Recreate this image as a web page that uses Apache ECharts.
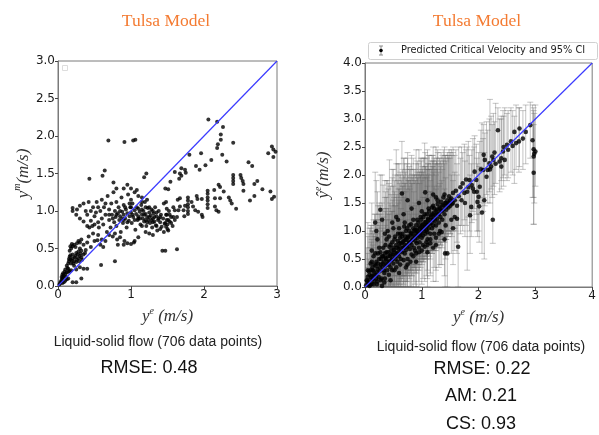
<!DOCTYPE html>
<html><head><meta charset="utf-8">
<script src="https://cdn.jsdelivr.net/npm/echarts@6/dist/echarts.min.js"></script>
<style>html,body{margin:0;padding:0;background:#fff}#c{width:599px;height:435px}</style>
</head><body><div id="c"></div>
<script>
// ---------- DATA ----------
const leftTicks = [0, 1, 2, 3];
const rightTicks = [0, 1, 2, 3, 4];
const titleText = "Tulsa Model";
const subText = "Liquid-solid flow (706 data points)";
const leftStats = ["RMSE: 0.48"];
const rightStats = ["RMSE: 0.22", "AM: 0.21", "CS: 0.93"];
const legendText = "Predicted Critical Velocity and 95% CI";
const diagLeft = [[0, 0], [3, 3]];
const diagRight = [[0, 0], [4, 4]];

// Left: measured (x) vs Tulsa model (y)
const leftOrigin = [[0.02,0.02],[0.03,0.04],[0.04,0.06],[0.05,0.08],[0.06,0.1],[0.07,0.12],[0.08,0.14],[0.1,0.16],[0.12,0.18],[0.14,0.19],[0.16,0.2],[0.18,0.21],[0.05,0.12],[0.06,0.15],[0.07,0.17],[0.09,0.19],[0.08,0.05],[0.1,0.07],[0.12,0.09],[0.14,0.1],[0.06,0.04],[0.11,0.12],[0.2,0.05],[0.25,0.05],[0.1,0.22],[0.13,0.24]];
const leftLow = [[0.14,0.3],[0.15,0.33],[0.15,0.36],[0.16,0.39],[0.17,0.41],[0.18,0.3],[0.19,0.34],[0.2,0.37],[0.2,0.42],[0.21,0.3],[0.22,0.33],[0.23,0.38],[0.24,0.4],[0.25,0.32],[0.26,0.35],[0.27,0.42],[0.28,0.37],[0.29,0.33],[0.3,0.4],[0.31,0.43],[0.32,0.38],[0.33,0.35],[0.35,0.42],[0.37,0.44],[0.17,0.35],[0.25,0.44],[0.16,0.47],[0.18,0.5],[0.2,0.53],[0.22,0.55],[0.24,0.52],[0.26,0.57],[0.28,0.6],[0.17,0.53],[0.19,0.56],[0.3,0.5],[0.32,0.62],[0.22,0.27],[0.3,0.25],[0.35,0.23],[0.4,0.23],[0.32,0.1],[0.25,0.22],[0.12,0.27],[0.14,0.23],[0.35,0.55],[0.4,0.58],[0.45,0.52],[0.42,0.66],[0.5,0.6],[0.54,0.61],[0.38,0.48],[0.48,0.7],[0.55,0.68],[0.58,0.55],[0.6,0.62],[0.65,0.6],[0.62,0.52],[0.3,0.58],[0.28,0.46],[0.32,0.47],[0.78,0.33],[0.59,0.28]];
const leftMain = [[0.2,1.0],[0.2,1.04],[0.26,1.02],[0.3,1.07],[0.35,1.1],[0.38,1.0],[0.4,0.95],[0.42,1.12],[0.43,0.78],[0.45,0.87],[0.47,0.8],[0.48,1.05],[0.5,0.93],[0.52,0.98],[0.53,1.12],[0.55,0.85],[0.56,0.78],[0.58,1.0],[0.6,0.9],[0.6,1.15],[0.62,0.82],[0.63,1.05],[0.65,0.95],[0.67,0.72],[0.68,1.2],[0.7,0.88],[0.7,1.02],[0.72,0.78],[0.73,1.1],[0.74,0.95],[0.75,0.66],[0.76,1.25],[0.77,0.85],[0.78,1.0],[0.79,0.92],[0.8,0.8],[0.8,1.12],[0.81,0.62],[0.82,0.97],[0.83,1.05],[0.84,0.88],[0.85,0.93],[0.86,0.72],[0.87,1.18],[0.88,0.99],[0.89,0.84],[0.9,0.95],[0.9,1.08],[0.91,0.6],[0.92,0.9],[0.93,1.02],[0.94,0.78],[0.95,0.97],[0.96,1.22],[0.97,0.87],[0.98,0.93],[0.99,1.05],[1.0,0.56],[1.0,0.98],[1.01,0.84],[1.02,1.1],[1.03,0.92],[1.04,0.58],[1.05,1.01],[1.06,0.75],[1.07,0.96],[1.08,1.28],[1.09,0.88],[1.1,1.03],[1.1,0.93],[1.12,0.99],[1.13,0.82],[1.14,1.08],[1.15,0.95],[1.16,0.9],[1.17,1.0],[1.18,0.86],[1.19,1.12],[1.2,0.96],[1.21,0.8],[1.22,0.92],[1.23,1.04],[1.24,0.88],[1.25,0.98],[1.26,0.84],[1.27,0.94],[1.28,1.02],[1.29,0.78],[1.3,0.9],[1.31,0.97],[1.32,0.86],[1.33,1.05],[1.34,0.81],[1.35,0.93],[1.36,0.74],[1.37,0.88],[1.38,1.0],[1.4,0.85],[1.41,0.95],[1.42,0.79],[1.44,0.9],[1.45,1.1],[1.46,0.83],[1.48,0.95],[1.5,0.76],[1.52,1.0],[1.53,0.86],[1.55,0.92],[1.57,0.8],[1.58,1.05],[1.6,0.88],[0.85,1.0],[0.88,0.9],[0.92,1.05],[0.95,0.85],[0.98,1.1],[1.02,0.95],[1.05,0.88],[1.08,1.05],[1.12,0.9],[1.15,1.02],[1.18,0.95],[1.2,1.05],[1.22,0.85],[1.25,0.92],[1.28,0.88],[1.3,1.0],[1.32,0.92],[1.35,0.98],[1.38,0.9],[1.4,0.92],[1.15,0.8],[1.2,0.88],[1.25,1.05],[1.3,0.85],[1.1,0.9],[1.0,1.05],[0.9,0.88],[0.8,0.95],[0.75,0.9],[0.7,0.95],[0.65,1.1],[0.55,1.05],[0.45,1.0],[0.5,0.82],[0.4,0.8],[0.35,0.86],[0.3,0.9],[0.25,0.95],[0.82,0.55],[0.9,0.55],[0.95,0.57],[0.85,0.65],[0.78,0.7],[0.7,0.68],[1.1,0.65],[1.05,0.6],[1.2,0.72],[1.25,0.7],[1.3,0.68],[1.35,0.8],[1.4,0.76],[1.45,0.72],[1.5,0.82],[1.55,0.84],[1.0,1.3],[0.95,1.35],[0.9,1.3],[1.05,1.25],[0.8,1.3],[1.1,1.2],[1.15,1.18],[1.22,1.15],[1.0,1.15],[1.15,1.12]];
const leftHigh = [[0.69,1.94],[0.91,1.92],[1.03,1.94],[1.06,1.95],[0.64,1.54],[0.61,1.47],[0.43,1.43],[0.76,1.38],[1.21,1.5],[1.18,1.45]];
const leftRight = [[2.06,2.22],[2.18,2.19],[2.26,2.12],[2.23,2.02],[2.23,1.95],[2.19,1.89],[2.18,1.84],[2.4,1.91],[2.25,1.75],[2.31,1.66],[1.96,1.77],[1.8,1.75],[1.89,1.6],[1.94,1.55],[2.02,1.61],[2.1,1.68],[2.61,1.65],[2.66,1.6],[2.88,1.77],[2.93,1.86],[2.95,1.82],[2.95,1.72],[2.98,1.79],[1.69,1.57],[1.74,1.55],[1.75,1.51],[1.67,1.5],[1.69,1.47],[1.66,1.43],[1.6,1.52],[1.54,1.39],[1.47,1.3],[1.51,1.29],[2.4,1.48],[2.4,1.44],[2.4,1.4],[2.4,1.36],[2.5,1.48],[2.51,1.44],[2.53,1.4],[2.54,1.36],[2.73,1.4],[2.69,1.36],[2.8,1.29],[2.54,1.27],[2.2,1.35],[2.22,1.32],[2.27,1.26],[2.22,1.17],[2.34,1.18],[2.36,1.14],[2.44,1.03],[2.38,1.1],[2.15,1.17],[2.15,1.06],[2.2,0.99],[2.63,1.14],[2.69,1.2],[2.93,1.16],[2.96,1.19],[2.91,1.26],[2.05,1.27],[2.05,1.23],[2.05,1.18],[2.05,1.14],[2.05,1.09],[2.05,1.04],[2.14,1.28],[2.17,1.01],[1.97,1.16],[1.9,1.2],[1.91,1.16],[1.88,1.01],[1.92,0.99],[1.97,0.95],[1.98,0.92],[1.83,1.12],[1.85,1.06],[1.78,1.18],[1.78,1.14],[1.78,1.09],[1.78,1.05],[1.78,1.0],[1.78,0.96],[1.74,1.07],[1.72,1.01],[1.73,0.93],[1.67,1.17],[1.64,1.15],[1.67,1.06],[1.65,1.01],[1.63,0.92],[1.6,1.01],[1.58,0.92],[1.53,0.95],[1.51,0.88],[1.48,1.12],[1.49,1.03],[1.49,0.95],[1.49,0.88],[1.47,0.84],[1.48,0.79],[1.51,0.74],[1.63,0.49],[1.43,0.47],[1.47,0.47]];

// Right: measured (x), predicted (y), 95% CI low, 95% CI high
const rightLow = [[0.02,0.03,0,0.35],[0.04,0.1,0,0.6],[0.05,0.18,0,1.15],[0.06,0.06,0,0.5],[0.08,0.22,0,1.05],[0.09,0.12,0,0.7],[0.1,0.3,0,1.1],[0.11,0.05,0,0.45],[0.12,0.2,0,0.85],[0.13,0.35,0,1.0],[0.14,0.15,0,0.75],[0.15,0.28,0,0.95],[0.16,0.1,0,0.6],[0.17,0.4,0,1.3],[0.18,1.15,0.2,2.05],[0.19,0.22,0,0.9],[0.2,0.45,0,1.2],[0.21,0.05,0,0.4],[0.22,0.32,0,1.05],[0.23,0.6,0,1.45],[0.24,0.18,0,0.8],[0.25,0.5,0,1.3],[0.26,0.28,0,1.0],[0.27,1.38,0.5,2.0],[0.28,0.4,0,1.15],[0.29,0.15,0,0.65],[0.3,0.55,0,1.5],[0.3,0.02,0,0.3],[0.31,0.35,0,1.05],[0.32,0.7,0,1.82],[0.33,0.45,0,1.25],[0.34,0.25,0,0.9],[0.35,0.6,0.1,1.6],[0.36,0.38,0,1.1],[0.37,0.5,0,1.4],[0.38,0.85,0.1,1.9],[0.39,0.3,0,1.0],[0.4,0.45,0,1.3],[0.41,0.62,0,1.75],[0.42,0.4,0,1.2],[0.43,0.72,0,2.27],[0.44,0.55,0,1.5],[0.45,0.35,0,1.05],[0.46,0.65,0.05,1.65],[0.47,0.48,0,1.35],[0.48,0.8,0.1,1.95],[0.49,0.58,0,1.55],[0.5,0.42,0,1.2],[0.5,0.7,0,1.8],[0.52,0.62,0,1.7],[0.53,0.9,0.2,2.0],[0.54,0.5,0,1.45],[0.55,0.75,0,2.45],[0.56,0.6,0,1.6],[0.57,0.45,0,1.3],[0.58,0.82,0.1,1.9],[0.59,0.68,0,1.75],[0.6,0.55,0,1.55],[0.6,1.05,0.3,2.2],[0.61,0.72,0.05,1.85],[0.62,0.88,0.15,2.05],[0.63,0.5,0,1.4],[0.64,0.78,0.1,1.9],[0.65,1.67,0.7,2.6],[0.65,0.62,0,1.7],[0.66,0.95,0.2,2.1],[0.67,0.7,0,1.8],[0.68,0.82,0.2,2.0],[0.69,1.08,0.4,2.3],[0.7,0.6,0,1.6],[0.7,0.75,0.1,1.85],[0.71,0.9,0.25,2.05],[0.72,0.66,0,1.7],[0.73,0.85,0.2,1.95],[0.74,1.05,0.4,2.2],[0.75,0.72,0.1,2.3],[0.76,0.88,0.3,2.0],[0.77,0.78,0.2,1.9],[0.78,1.0,0.4,2.1],[0.79,0.68,0,1.75],[0.8,0.92,0.3,2.1],[0.8,0.8,0.25,1.9],[0.81,1.12,0.5,2.2],[0.82,0.75,0.2,1.85],[0.83,0.95,0.35,2.0],[0.84,0.85,0.3,1.95],[0.85,1.2,0.5,2.3],[0.86,0.7,0.1,1.7],[0.87,0.9,0.35,2.0],[0.88,1.02,0.45,2.1],[0.89,0.82,0.3,1.9],[0.9,0.95,0.4,2.45],[0.9,1.1,0.5,2.2],[0.91,0.78,0.25,1.85],[0.92,1.0,0.45,2.05],[0.93,0.88,0.35,1.95],[0.94,1.15,0.55,2.2],[0.95,0.92,0.4,2.0],[0.96,0.8,0.3,1.85],[0.97,1.05,0.5,2.1],[0.98,0.95,0.45,2.0],[0.99,1.2,0.6,2.25],[1.0,0.88,0.4,1.9],[1.0,1.02,0.5,2.05],[1.01,1.1,0.55,2.15],[1.02,0.92,0.45,1.95],[1.03,1.25,0.65,2.3],[1.04,1.0,0.5,2.0],[1.05,1.08,0.8,2.57],[1.06,0.95,0.5,1.95],[1.06,1.69,0.9,2.4],[1.07,1.15,0.6,2.15],[1.08,1.02,0.55,2.0],[1.09,1.3,0.7,2.3],[1.1,1.1,0.6,2.1],[1.1,0.98,0.5,1.95],[1.11,1.2,0.65,2.2],[1.12,1.05,0.6,2.0],[1.13,1.35,0.75,2.35],[1.14,1.12,0.65,2.1],[1.15,0.95,0.5,1.9],[1.16,1.25,0.7,2.2],[1.17,1.15,0.65,2.1],[1.18,1.05,0.6,2.0],[1.19,1.3,0.75,2.25],[1.2,1.2,0.7,2.15],[1.2,1.1,0.65,2.05],[1.22,1.4,0.8,2.3],[1.23,1.18,0.7,2.1],[1.24,1.28,0.75,2.2],[1.25,1.1,0.65,2.0],[1.26,1.35,0.8,2.25],[1.27,1.22,0.75,2.1],[1.28,1.48,0.9,2.4],[1.3,1.3,0.8,2.2],[1.3,1.15,0.7,2.05],[1.32,1.4,0.85,2.3],[1.33,1.25,0.75,2.15],[1.34,1.52,0.95,2.4],[1.35,1.35,0.85,2.2],[1.36,1.2,0.7,2.1],[1.38,1.45,0.9,2.3],[1.4,1.3,0.8,2.2],[1.41,0.6,0,1.5],[1.42,1.5,0.95,2.35],[1.43,1.38,0.85,2.25],[1.45,0.6,0,1.6],[1.45,1.55,1.0,2.4],[1.47,1.42,0.9,2.3],[1.48,1.5,1.0,2.35],[1.5,1.45,0.95,2.3],[1.52,1.58,1.0,2.45],[1.55,1.5,1.0,2.4],[1.58,1.55,1.05,2.35],[0.72,0.35,0,1.1],[0.85,0.55,0,1.4],[0.95,0.62,0,1.5],[1.05,0.72,0.1,1.6],[1.15,0.78,0.2,1.7],[1.25,0.88,0.3,1.75],[1.35,0.98,0.4,1.9],[1.2,0.7,0.1,1.6],[1.0,0.65,0.05,1.5],[1.1,0.85,0.3,1.8],[0.2,1.0,0.2,1.9],[0.3,1.2,0.4,2.0],[0.55,1.25,0.4,2.2],[0.75,1.55,0.7,2.4],[0.5,1.05,0.2,2.1],[0.4,1.0,0.1,1.9],[1.25,1.6,0.9,2.5],[1.4,1.65,1.0,2.5]];
const rightSpread = [[0.05,0.3,0,0.9],[0.08,0.02,0,0.4],[0.12,0.45,0,1.1],[0.15,0.05,0,0.5],[0.18,0.6,0,1.3],[0.22,0.1,0,0.6],[0.25,0.7,0,1.5],[0.28,0.12,0,0.7],[0.32,0.55,0,1.4],[0.35,0.15,0,0.8],[0.38,0.62,0,1.6],[0.42,0.22,0,0.9],[0.45,0.75,0,1.8],[0.48,0.3,0,1.0],[0.52,0.85,0.1,1.9],[0.55,0.35,0,1.1],[0.58,0.95,0.2,2.0],[0.62,0.4,0,1.2],[0.65,0.9,0.2,1.95],[0.68,0.48,0,1.3],[0.72,1.0,0.3,2.1],[0.75,0.5,0,1.35],[0.78,1.1,0.4,2.15],[0.82,0.58,0,1.45],[0.85,1.05,0.4,2.1],[0.88,0.65,0.05,1.5],[0.92,1.2,0.5,2.25],[0.95,0.7,0.1,1.55],[0.98,1.25,0.6,2.3],[1.02,0.75,0.15,1.6],[1.05,1.3,0.65,2.3],[1.08,0.8,0.2,1.65],[1.12,1.4,0.75,2.35],[1.15,0.85,0.25,1.7],[1.18,1.42,0.8,2.35],[1.22,0.95,0.35,1.8],[1.28,1.55,0.9,2.45],[1.32,1.0,0.4,1.85],[1.38,1.6,0.95,2.45],[1.42,1.1,0.5,1.95],[1.48,1.62,1.0,2.45],[1.52,1.2,0.6,2.0],[1.55,1.68,1.05,2.5],[1.58,1.25,0.65,2.05],[0.36,0.75,0,1.7],[0.42,0.9,0.1,1.85],[0.52,0.3,0,1.0],[0.62,0.95,0.2,2.0],[0.7,1.15,0.4,2.2],[0.8,0.45,0,1.3],[0.9,0.6,0,1.45],[1.0,1.35,0.6,2.3],[1.1,0.75,0.15,1.6],[1.2,1.45,0.8,2.35],[1.3,0.95,0.35,1.8],[0.1,0.42,0,1.05],[0.2,0.15,0,0.7],[0.27,0.62,0,1.45],[0.34,0.08,0,0.5],[0.15,0.55,0,1.2]];
const rightDense = [[0.03,0.12,0,0.7],[0.07,0.28,0,0.95],[0.09,0.04,0,0.4],[0.11,0.18,0,0.8],[0.14,0.3,0,1.0],[0.16,0.22,0,0.9],[0.19,0.38,0,1.1],[0.21,0.26,0,0.95],[0.23,0.42,0,1.2],[0.26,0.35,0,1.1],[0.28,0.5,0,1.3],[0.31,0.42,0,1.2],[0.33,0.3,0,1.0],[0.36,0.52,0,1.35],[0.38,0.4,0,1.2],[0.41,0.55,0,1.4],[0.43,0.46,0,1.3],[0.46,0.58,0,1.45],[0.48,0.5,0,1.35],[0.51,0.66,0,1.6],[0.53,0.55,0,1.45],[0.56,0.7,0.05,1.65],[0.58,0.6,0,1.5],[0.61,0.78,0.1,1.75],[0.63,0.65,0,1.6],[0.66,0.8,0.15,1.8],[0.68,0.7,0.05,1.7],[0.71,0.84,0.2,1.85],[0.73,0.74,0.1,1.75],[0.76,0.9,0.25,1.9],[0.78,0.8,0.15,1.8],[0.81,0.96,0.3,1.95],[0.83,0.84,0.2,1.85],[0.86,1.0,0.35,2.0],[0.88,0.88,0.25,1.9],[0.91,1.02,0.4,2.0],[0.93,0.94,0.3,1.95],[0.96,1.08,0.45,2.05],[0.98,0.98,0.35,2.0],[1.01,1.12,0.5,2.1],[1.03,1.04,0.45,2.05],[1.06,1.16,0.55,2.15],[1.08,1.1,0.5,2.1],[1.11,1.22,0.6,2.2],[1.13,1.14,0.55,2.1],[1.16,1.28,0.65,2.25],[1.18,1.2,0.6,2.15],[1.21,1.32,0.7,2.25],[1.23,1.24,0.65,2.2],[1.26,1.38,0.75,2.3],[1.28,1.3,0.7,2.2],[1.31,1.42,0.8,2.3],[1.33,1.36,0.75,2.25],[1.36,1.46,0.85,2.35],[1.38,1.38,0.8,2.25],[1.41,1.5,0.9,2.35],[1.43,1.44,0.85,2.3],[1.46,1.48,0.9,2.35],[1.5,1.55,0.95,2.4],[1.53,1.48,0.9,2.35],[0.45,0.12,0,0.8],[0.6,0.25,0,1.0],[0.75,0.4,0,1.2],[0.9,0.45,0,1.3],[1.1,0.62,0,1.5],[1.25,0.75,0.1,1.6],[1.4,0.85,0.2,1.75],[1.55,1.05,0.4,1.9],[1.62,1.22,0.6,2.0],[0.12,0.65,0,1.5],[0.22,0.85,0,1.7],[0.35,0.95,0.1,1.9],[0.48,1.15,0.3,2.1],[0.58,1.2,0.35,2.2],[0.68,1.3,0.45,2.3],[0.82,1.4,0.6,2.35],[0.95,1.5,0.7,2.45],[1.1,1.55,0.8,2.45],[1.2,1.65,0.9,2.5]];
const rightHigh = [[1.6,1.72,1.0,2.45],[1.62,1.45,0.8,2.2],[1.64,0.72,0,1.55],[1.65,1.62,1.1,2.5],[1.68,1.78,0.95,2.3],[1.7,1.55,1.1,2.5],[1.72,1.85,1.0,2.4],[1.75,1.68,1.2,2.55],[1.76,1.5,0.9,2.25],[1.78,1.92,1.1,2.45],[1.8,1.7,0.3,2.5],[1.82,1.78,1.25,2.6],[1.84,1.91,1.0,2.35],[1.85,1.28,0.6,2.0],[1.87,1.43,0.9,2.2],[1.88,1.82,1.15,2.45],[1.9,1.76,1.35,2.65],[1.92,1.7,1.2,2.5],[1.93,2.06,1.4,2.7],[1.96,1.91,1.3,2.55],[1.97,1.7,1.0,2.3],[1.98,1.52,0.9,2.2],[2.0,1.61,1.0,2.4],[2.01,1.44,0.8,2.15],[2.02,1.79,1.3,2.6],[2.04,2.1,1.5,2.8],[2.06,1.33,0.6,2.93],[2.08,2.09,1.35,2.65],[2.09,2.36,1.6,2.9],[2.1,1.55,0.5,2.4],[2.11,2.27,1.45,2.75],[2.14,1.97,1.65,2.95],[2.16,2.09,1.5,2.8],[2.19,2.21,1.7,3.0],[2.2,2.1,1.5,3.35],[2.22,2.15,1.75,3.05],[2.24,2.33,1.6,2.9],[2.25,1.2,0.78,2.2],[2.26,2.27,1.8,3.1],[2.28,2.4,1.65,2.95],[2.3,2.2,1.85,3.28],[2.34,2.8,2.2,3.2],[2.37,2.24,1.7,3.0],[2.4,2.3,1.9,3.05],[2.4,2.15,1.75,3.0],[2.43,2.42,1.95,3.15],[2.44,2.5,1.8,3.05],[2.46,2.27,2.0,3.2],[2.5,2.54,1.9,3.1],[2.52,2.45,1.95,3.15],[2.57,2.6,2.05,3.2],[2.6,2.52,2.0,3.15],[2.63,2.77,1.85,3.05],[2.66,2.57,2.1,3.25],[2.71,2.6,2.05,3.2],[2.72,2.83,2.15,3.2],[2.78,2.65,2.1,3.15],[2.83,2.77,2.2,3.25],[2.91,2.89,2.3,3.3],[2.95,2.62,1.6,3.25],[2.97,2.46,1.12,3.2],[2.98,2.38,1.5,3.1],[3.0,2.42,1.8,3.25],[2.97,2.33,1.6,3.15],[2.97,2.04,1.12,2.9]];

// ---------- CHART ----------
const chart = echarts.init(document.getElementById('c'), null, {renderer: 'canvas'});
const serif = '"Liberation Serif","DejaVu Serif",serif';
const sans = '"DejaVu Sans",sans-serif';
const arial = '"Liberation Sans",Arial,sans-serif';
const titleColor = '#f47b32';
const frame = '#7a7a7a';

const nameRich = {
  v: {fontFamily: serif, fontStyle: 'italic', fontSize: 17, lineHeight: 22, color: '#333'},
  s: {fontFamily: serif, fontStyle: 'italic', fontSize: 10, lineHeight: 10, verticalAlign: 'top', color: '#333'}
};

function makeAxis(idx, max, step, nameText, isY, gap) {
  return {
    gridIndex: idx, type: 'value', min: 0, max: max, interval: step,
    name: nameText, nameLocation: 'middle', nameGap: gap,
    nameTextStyle: {rich: nameRich},
    axisLine: {show: true, lineStyle: {color: frame, width: 1}},
    axisTick: {show: true, inside: false, length: 3, lineStyle: {color: '#444'}},
    splitLine: {show: false},
    axisLabel: {show: true, margin: 3, fontFamily: sans, fontSize: 12, color: '#1a1a1a',
      formatter: v => isY ? v.toFixed(1) : String(v)}
  };
}

const xL = makeAxis(0, 3, 1, '{v|y}{s|e}{v| (m/s)}', false, 19);
const yL = makeAxis(0, 3, 0.5, '{v|y}{s|m}{v|(m/s)}', true, 23);
const xR = makeAxis(1, 4, 1, '{v|y}{s|e}{v| (m/s)}', false, 19);
const yR = makeAxis(1, 4, 0.5, '{v|ŷ}{s|e}{v|(m/s)}', true, 30);

function errRender(params, api) {
  const x = api.value(0), lo = api.value(2), hi = api.value(3);
  const a = api.coord([x, lo]), b = api.coord([x, hi]);
  const c = 3;
  const st = {stroke: 'rgba(100,100,100,0.38)', lineWidth: 1};
  return {type: 'group', children: [
    {type: 'line', shape: {x1: a[0], y1: a[1], x2: b[0], y2: b[1]}, style: st},
    {type: 'line', shape: {x1: a[0] - c, y1: a[1], x2: a[0] + c, y2: a[1]}, style: st},
    {type: 'line', shape: {x1: b[0] - c, y1: b[1], x2: b[0] + c, y2: b[1]}, style: st}
  ]};
}

const leftAll = [].concat(leftOrigin, leftLow, leftMain, leftHigh, leftRight);
const rightAll = [].concat(rightLow, rightSpread, rightDense, rightHigh);

function txt(x, y, s, size, color) {
  return {type: 'text', x: x, y: y, style: {text: s, fontFamily: arial, fontSize: size, fill: color, textAlign: 'center', textVerticalAlign: 'middle'}};
}

const option = {
  backgroundColor: '#fff',
  animation: false,
  title: [
    {text: titleText, left: 161, top: 7, textAlign: 'center', textStyle: {fontFamily: serif, fontSize: 17.5, fontWeight: 'normal', color: titleColor}},
    {text: titleText, left: 472, top: 7, textAlign: 'center', textStyle: {fontFamily: serif, fontSize: 17.5, fontWeight: 'normal', color: titleColor}}
  ],
  grid: [
    {left: 58, top: 61, width: 219, height: 225, show: true, borderColor: frame, borderWidth: 1, backgroundColor: 'transparent'},
    {left: 365, top: 63, width: 228, height: 224, show: true, borderColor: frame, borderWidth: 1, backgroundColor: 'transparent'}
  ],
  xAxis: [xL, xR],
  yAxis: [yL, yR],
  series: [
    {type: 'scatter', xAxisIndex: 0, yAxisIndex: 0, data: leftAll, symbolSize: 4, itemStyle: {color: '#000'}, z: 3},
    {type: 'line', xAxisIndex: 0, yAxisIndex: 0, data: diagLeft, symbol: 'none', lineStyle: {color: '#3b3bff', width: 1.2}, z: 4},
    {type: 'custom', xAxisIndex: 1, yAxisIndex: 1, data: rightAll, renderItem: errRender, z: 2, clip: true},
    {type: 'scatter', xAxisIndex: 1, yAxisIndex: 1, data: rightAll.map(p => [p[0], p[1]]), symbolSize: 4.6, itemStyle: {color: '#000'}, z: 3},
    {type: 'line', xAxisIndex: 1, yAxisIndex: 1, data: diagRight, symbol: 'none', lineStyle: {color: '#3b3bff', width: 1.2}, z: 4}
  ],
  graphic: [
    {type: 'rect', left: 62, top: 65, shape: {width: 5, height: 5}, style: {fill: '#fff', stroke: '#ddd', lineWidth: 1}, z: 10},
    {type: 'rect', left: 368, top: 42, shape: {width: 229, height: 17, r: 2}, style: {fill: '#fff', stroke: '#d0d0d0', lineWidth: 1}, z: 10},
    {type: 'line', shape: {x1: 381, y1: 46, x2: 381, y2: 55}, style: {stroke: '#888', lineWidth: 1}, z: 11},
    {type: 'line', shape: {x1: 379, y1: 46, x2: 383, y2: 46}, style: {stroke: '#888', lineWidth: 1}, z: 11},
    {type: 'line', shape: {x1: 379, y1: 55, x2: 383, y2: 55}, style: {stroke: '#888', lineWidth: 1}, z: 11},
    {type: 'circle', shape: {cx: 381, cy: 50.5, r: 1.8}, style: {fill: '#000'}, z: 12},
    {type: 'text', x: 401, y: 50.5, style: {text: legendText, fontFamily: sans, fontSize: 9.8, fill: '#222', textVerticalAlign: 'middle'}, z: 12},
    txt(158, 342, subText, 14, '#222'),
    txt(149, 368, leftStats[0], 18, '#111'),
    txt(481, 347, subText, 14, '#222'),
    txt(482, 369, rightStats[0], 18, '#111'),
    txt(481, 396, rightStats[1], 18, '#111'),
    txt(481, 424, rightStats[2], 18, '#111')
  ]
};
chart.setOption(option);
</script></body></html>
